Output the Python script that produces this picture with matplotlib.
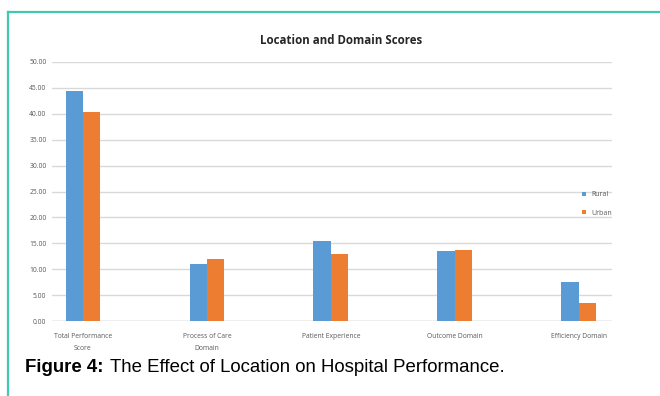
import numpy as np
import matplotlib.pyplot as plt
from matplotlib.lines import Line2D

categories = ["Total Performance\nScore", "Process of Care\nDomain", "Patient Experience",
              "Outcome Domain", "Efficiency Domain"]
rural = [44.4, 11.0, 15.5, 13.6, 7.5]
urban = [40.4, 11.9, 12.9, 13.7, 3.5]
yticks = np.arange(0, 50.01, 5)

blue = "#5b9bd5"
orange = "#ed7d31"

fig = plt.figure(figsize=(6.6, 3.96), dpi=100)
fig.patch.set_facecolor("white")

# teal frame on the top and left edges
fig.add_artist(Line2D([8 / 660, 1.0], [1 - 12 / 396, 1 - 12 / 396], color="#3ec9b2", lw=1.6))
fig.add_artist(Line2D([8 / 660, 8 / 660], [0, 1 - 12 / 396], color="#3ec9b2", lw=1.6))

ax = fig.add_axes([52 / 660, 1 - 321 / 396, 560 / 660, 259 / 396])
x = np.arange(len(categories))
w = 0.14
ax.bar(x - w / 2, rural, w, color=blue, label="Rural", zorder=3)
ax.bar(x + w / 2, urban, w, color=orange, label="Urban", zorder=3)

ax.set_xlim(-0.25, 4.27)
ax.set_ylim(0, 50)
ax.set_yticks(yticks)
ax.set_yticklabels([f"{v:.2f}" for v in yticks], fontsize=4.9, color="#595959",
                   family="Open Sans")
ax.set_xticks(x)
ax.set_xticklabels(categories, fontsize=4.9, color="#595959", family="Open Sans",
                   linespacing=2.0)
ax.tick_params(axis="y", length=0, pad=4)
ax.tick_params(axis="x", length=0, pad=9)
ax.grid(axis="y", color="#d9d9d9", lw=1.0, zorder=0)
for s in ax.spines.values():
    s.set_visible(False)
ax.axhline(0, color="#d0d0d0", lw=1.0, zorder=2)

fig.text(341 / 660, 1 - 40 / 396, "Location and Domain Scores", ha="center", va="center",
         fontsize=8.3, fontweight="bold", family="Open Sans", color="#262626")

leg = fig.legend(handles=ax.patches[:1] + ax.patches[5:6], labels=["Rural", "Urban"],
                 loc="center left", bbox_to_anchor=(576 / 660, 1 - 204 / 396),
                 frameon=False, fontsize=5.0, handlelength=0.5, handleheight=0.5,
                 handletextpad=0.8, labelspacing=1.6)
for t in leg.get_texts():
    t.set_color("#595959")
    t.set_family("Open Sans")

fig.text(25 / 660, 1 - 368 / 396, "Figure 4:", ha="left", va="center",
         fontsize=13.4, fontweight="bold", family="Liberation Sans")
fig.text(110 / 660, 1 - 368 / 396, "The Effect of Location on Hospital Performance.",
         ha="left", va="center", fontsize=13.4, family="Liberation Sans")

fig.savefig("out.png", dpi=100)
